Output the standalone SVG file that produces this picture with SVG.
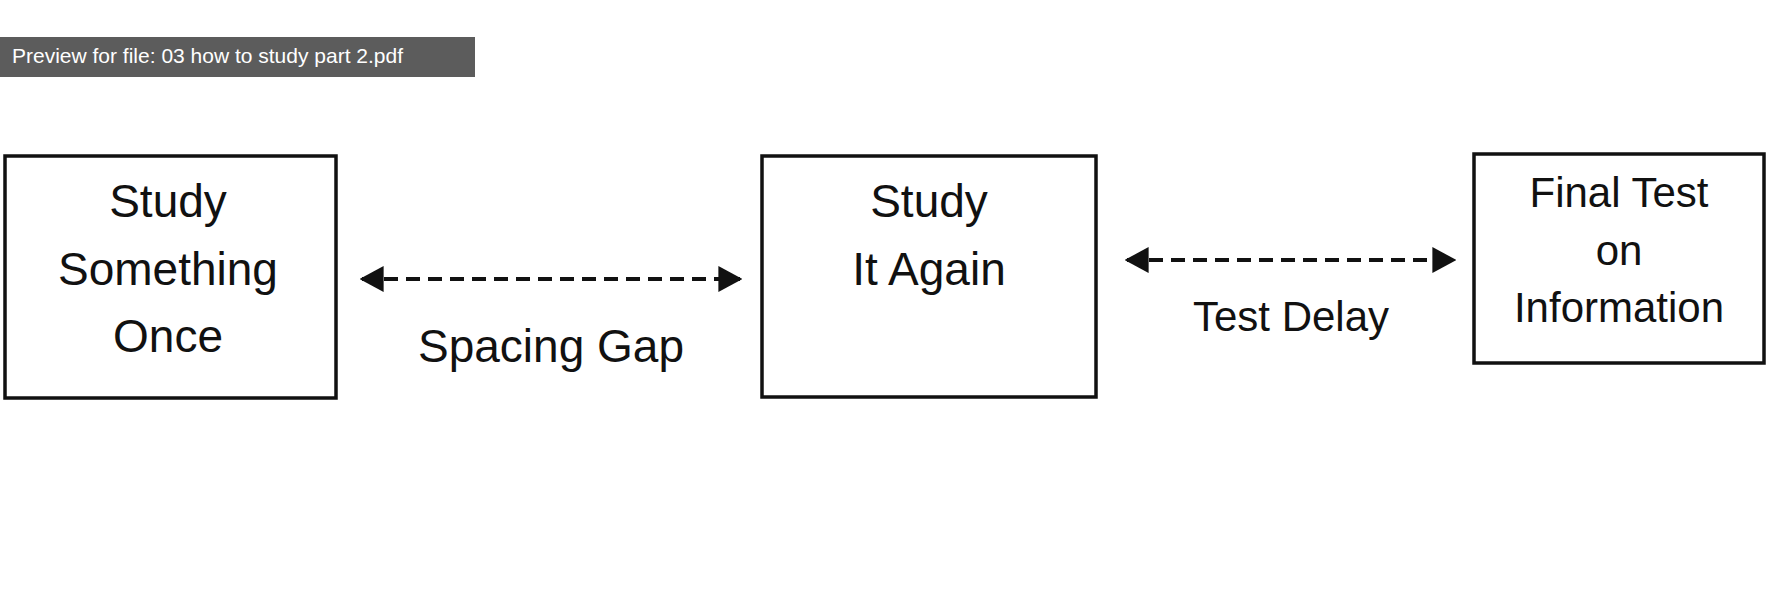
<svg xmlns="http://www.w3.org/2000/svg" width="1772" height="602" viewBox="0 0 1772 602">
<defs>
<style>
.box{fill:#fff;stroke:#111;stroke-width:3.5}
.t{font-family:"Liberation Sans",Arial,sans-serif;fill:#111;text-anchor:middle}
.c{stroke:#111;stroke-width:4;stroke-dasharray:14 8;fill:none}
</style>
<marker id="ah" viewBox="0 0 10 10" refX="9" refY="5" markerWidth="24" markerHeight="26" orient="auto-start-reverse" markerUnits="userSpaceOnUse" preserveAspectRatio="none">
<path d="M0,0 L10,5 L0,10 Z" fill="#111"/>
</marker>
</defs>
<rect width="1772" height="602" fill="#fff"/>
<g id="tooltip">
<rect x="0" y="37" width="475" height="40" fill="#5c5c5c"/>
<text x="12" y="63" font-family="Liberation Sans,Arial,sans-serif" font-size="21" fill="#fff">Preview for file: 03 how to study part 2.pdf</text>
</g>
<g id="node1">
<rect class="box" x="5" y="156" width="331" height="242"/>
<text class="t" font-size="46" x="168" y="217">Study</text>
<text class="t" font-size="46" x="168" y="285">Something</text>
<text class="t" font-size="46" x="168" y="352">Once</text>
</g>
<g id="node2">
<rect class="box" x="762" y="156" width="334" height="241"/>
<text class="t" font-size="46" x="929" y="217">Study</text>
<text class="t" font-size="46" x="929" y="285">It Again</text>
</g>
<g id="node3">
<rect class="box" x="1474" y="154" width="290" height="209"/>
<text class="t" font-size="42" x="1619" y="207">Final Test</text>
<text class="t" font-size="42" x="1619" y="265">on</text>
<text class="t" font-size="42" x="1619" y="322">Information</text>
</g>
<g id="connectors">
<line class="c" x1="362" y1="279" x2="740" y2="279" marker-start="url(#ah)" marker-end="url(#ah)"/>
<text class="t" font-size="46" x="551" y="362">Spacing Gap</text>
<line class="c" x1="1127" y1="260" x2="1454" y2="260" marker-start="url(#ah)" marker-end="url(#ah)"/>
<text class="t" font-size="42" x="1291" y="331">Test Delay</text>
</g>
</svg>
